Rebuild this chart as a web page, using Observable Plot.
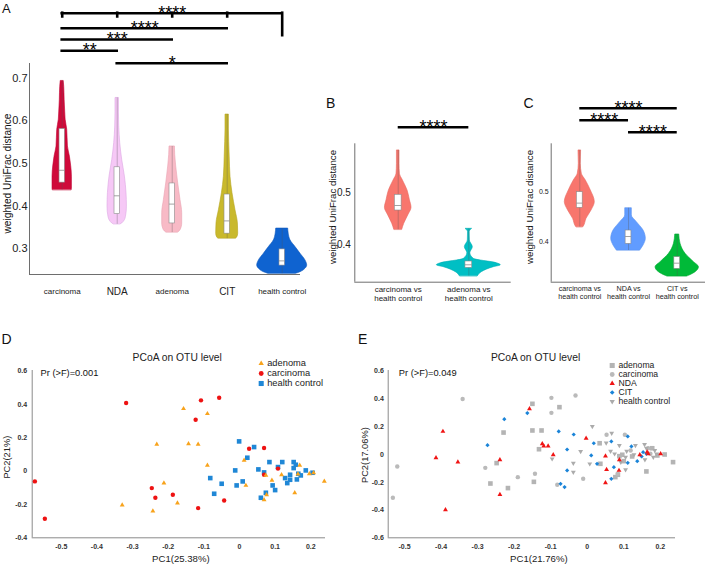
<!DOCTYPE html>
<html><head><meta charset="utf-8">
<script src="https://cdn.jsdelivr.net/npm/d3@7"></script>
<script src="https://cdn.jsdelivr.net/npm/@observablehq/plot@0.6"></script>
<style>
html,body{margin:0;padding:0;background:#fff;}
#fig{position:relative;width:709px;height:566px;overflow:hidden;background:#fff;font-family:"Liberation Sans",Arial,sans-serif;}
</style></head><body><div id="fig"></div>
<script>
// ---------------- DATA ----------------
// Panel A: violin profiles [value, half-width(px)], box [q1, median, q3]
const groupsA = ["carcinoma", "NDA", "adenoma", "CIT", "health control"];
const violinA_carcinoma = [[0.694,1.5],[0.68,2],[0.65,2.4],[0.62,3],[0.603,3.4],[0.579,5],[0.54,5.7],[0.516,7.7],[0.493,9],[0.469,9.7],[0.441,9.7],[0.4376,9.5]];
const violinA_NDA = [[0.654,1.7],[0.62,1.7],[0.587,2],[0.548,3],[0.508,5],[0.469,7.7],[0.43,9.3],[0.398,9.7],[0.374,8.7],[0.359,5],[0.357,3.5]];
const violinA_adenoma = [[0.54,2.7],[0.52,3],[0.493,4],[0.453,6],[0.414,8.3],[0.383,10],[0.359,10],[0.343,8.3],[0.3376,6]];
const violinA_CIT = [[0.615,1.7],[0.58,1.7],[0.55,2],[0.516,2.5],[0.469,3.3],[0.43,5.3],[0.39,8.3],[0.359,10.7],[0.335,11],[0.326,10],[0.3234,9]];
const violinA_HC = [[0.347,6],[0.335,6.5],[0.3194,8.3],[0.3035,13.3],[0.2878,18.3],[0.272,23.3],[0.2603,25],[0.2525,23.3],[0.2444,18.3],[0.2407,14]];
const boxA = [[0.455,0.484,0.581],[0.381,0.424,0.491],[0.359,0.4045,0.453],[0.335,0.365,0.427],[0.26,0.271,0.298]];
// significance: [from group, to group, level, label]
const sigA = [[1,5,5,"****"],[1,4,3.8,"****"],[1,3,2.9,"***"],[1,2,2,"**"],[2,4,1,"*"]];
const sigA_ticks = [1,2,3,4];
const sigA_drop = [5];

// Panel B
const groupsB = ["carcinoma vs\nhealth control", "adenoma vs\nhealth control"];
const violinB_carcinoma = [[0.581,1.3],[0.555,1.3],[0.536,1.7],[0.523,4.7],[0.504,9.3],[0.485,11.7],[0.4706,13.3],[0.456,10],[0.44,6],[0.4285,4]];
const violinB_adenoma = [[0.4302,3.3],[0.4237,0.8],[0.4077,1],[0.3949,4],[0.3833,1.5],[0.3724,5],[0.364,28],[0.36,32],[0.3564,25],[0.3468,13],[0.339,9]];
const boxB = [[0.4654,0.475,0.4956],[0.3552,0.361,0.3673]];
const sigB = [[1,2,1,"****"]];

// Panel C
const groupsC = ["carcinoma vs\nhealth control", "NDA vs\nhealth control", "CIT vs\nhealth control"];
const violinC_carcinoma = [[0.581,1.3],[0.5546,1],[0.535,2],[0.5217,6],[0.502,11],[0.479,15],[0.4625,11.7],[0.446,6.7],[0.431,4],[0.4296,3.5]];
const violinC_NDA = [[0.467,3.3],[0.4527,3.3],[0.4395,8.3],[0.423,15],[0.4067,17.3],[0.3935,15],[0.3836,11.7]];
const violinC_CIT = [[0.4152,2],[0.3968,3.3],[0.377,8.3],[0.3606,16.7],[0.3507,21.7],[0.3408,18.3],[0.3337,11.7],[0.3323,10]];
const boxC = [[0.4678,0.477,0.4986],[0.3968,0.4112,0.423],[0.3475,0.3586,0.3704]];
const sigC = [[1,3,3,"****"],[1,2,2,"****"],[2,3,1,"****"]];

// Panel D (PC1, PC2)
const adenomaD = [[-0.157,0.374],[-0.09,0.344],[-0.232,0.16],[-0.143,0.164],[-0.116,0.16],[-0.09,0.034],[-0.212,-0.072],[-0.329,-0.204],[-0.243,-0.24],[-0.174,-0.192],[0.013,0.064],[0.018,-0.086],[0.069,-0.172],[0.076,-0.142],[0.074,-0.026],[0.091,-0.056],[0.118,-0.022],[0.155,-0.13],[0.169,0.034],[0.164,-0.018],[0.196,-0.016],[0.208,-0.01],[0.238,-0.062]];
const carcinomaD = [[-0.574,-0.062],[-0.546,-0.286],[-0.318,0.408],[-0.108,0.424],[-0.057,0.44],[-0.123,0.308],[-0.246,-0.102],[-0.236,-0.16],[-0.187,-0.142],[-0.116,-0.222],[-0.043,-0.176],[0.027,0.134],[0.069,0.138],[0.108,0.015],[0.069,-0.022]];
const healthD = [[-0.001,0.178],[0.041,0.144],[0.022,0.08],[0.084,0.054],[0.12,0.054],[0.152,0.054],[0.158,0.038],[0.108,0.024],[0.152,0.018],[0.053,0.01],[0.069,-0.008],[-0.012,0.004],[0.186,0.004],[0.205,-0.01],[0.142,-0.022],[0.165,-0.016],[0.172,-0.026],[0.128,-0.042],[0.161,-0.05],[0.142,-0.052],[0.134,-0.072],[0.009,-0.062],[-0.008,-0.086],[0.093,-0.086],[-0.05,-0.076],[0.1,-0.114],[0.074,-0.13],[0.06,-0.16],[-0.082,-0.042],[-0.071,-0.136]];

// Panel E (PC1, PC2)
const adenomaE = [[-0.15,0.365],[-0.076,0.341],[-0.15,0.173],[-0.125,0.173],[-0.229,0.158],[-0.132,0.038],[-0.248,-0.062],[-0.265,-0.209],[-0.217,-0.242],[-0.146,-0.197],[0.034,0.081],[0.088,-0.012],[0.1,-0.048],[0.123,-0.014],[0.036,-0.067],[0.084,-0.146],[0.077,-0.163],[0.162,-0.122],[0.178,0.045],[0.192,-0.007],[0.212,0],[0.235,-0.055],[0.096,-0.002]];
const carcinomaE = [[-0.52,-0.086],[-0.532,-0.312],[-0.341,0.4],[-0.098,0.408],[-0.032,0.425],[-0.098,0.3],[-0.279,-0.096],[-0.19,-0.163],[-0.143,-0.139],[-0.082,-0.218],[-0.011,-0.175],[0.053,0.142],[0.103,0.142],[0.167,0.045],[0.173,0.005],[0.119,0.029],[0.084,-0.139]];
const ndaE = [[-0.395,0.166],[-0.414,-0.024],[-0.354,-0.055],[-0.388,-0.398],[-0.239,-0.038],[-0.239,-0.288],[-0.158,0.329],[-0.003,0.117],[-0.123,0.077],[-0.119,0.06],[-0.107,0.06],[-0.093,-0.002],[0.05,-0.012],[0.088,-0.038],[0.053,-0.108],[0.087,-0.115],[0.05,-0.204],[0.144,-0.002],[0.164,0.017],[0.167,0.005],[0.201,0.005]];
const citE = [[-0.227,0.254],[-0.164,0.298],[-0.273,0.067],[-0.078,0.166],[-0.037,0.144],[0.018,0.081],[0.066,0.094],[0.111,0.13],[-0.055,0.036],[0.011,-0.007],[0.121,0.058],[0.149,-0.014],[0.153,0.017],[0.162,0.005],[0.027,-0.067],[0.111,-0.06],[0.137,-0.048],[0.073,-0.091],[-0.055,-0.115],[0.066,-0.175],[-0.073,-0.211],[-0.062,-0.235]];
const healthE = [[0.014,0.202],[0.067,0.153],[0.052,0.084],[-0.018,0.022],[0.088,0.065],[0.064,0.024],[0.075,0.005],[0.132,0.065],[0.157,0.072],[0.162,0.045],[0.108,0.024],[0.128,-0.002],[0.185,0.029],[0.19,0.005],[0.158,-0.038],[0.105,-0.019],[-0.038,-0.063],[0.007,-0.067],[-0.038,-0.127],[0.105,-0.11],[-0.096,-0.031],[0.092,-0.055],[0.181,-0.019]];

const ticksPC1 = [-0.5,-0.4,-0.3,-0.2,-0.1,0,0.1,0.2];
const ticksPC2_D = [-0.4,-0.2,0,0.2,0.4,0.6];
const ticksPC2_E = [-0.6,-0.4,-0.2,0,0.2,0.4,0.6];

// ---------------- DRAWING ----------------
const FONT = '"Liberation Sans", Arial, Helvetica, sans-serif';
const fig = document.getElementById("fig");
function put(el, left, top) {
  Object.assign(el.style, {position: "absolute", left: left + "px", top: top + "px", background: "transparent", overflow: "visible", maxWidth: "none"});
  fig.appendChild(el);
}
function letter(t, left, top, size) {
  const d = document.createElement("div");
  d.textContent = t;
  Object.assign(d.style, {position: "absolute", left: left + "px", top: top + "px", fontSize: size + "px", lineHeight: size + "px", fontFamily: FONT, color: "#111"});
  fig.appendChild(d);
}
const AXIS = "#6e6e6e";

function violinPanel(o) {
  const marks = [];
  o.profiles.forEach((p, i) => {
    const c = i + 1;
    const prof = p.slice().sort((a, b) => a[0] - b[0]);
    marks.push(Plot.areaX(prof, {y: d => d[0], x1: d => c - d[1] / o.pxPerUnit, x2: d => c + d[1] / o.pxPerUnit,
      fill: o.fills[i], stroke: o.strokes[i], strokeWidth: 0.6, curve: "monotone-y"}));
  });
  const bx = o.boxes.map((b, i) => {
    const vals = o.profiles[i].map(d => d[0]);
    return {c: i + 1, lo: d3.min(vals), hi: d3.max(vals), q1: b[0], med: b[1], q3: b[2]};
  });
  const h = o.boxHalf / o.pxPerUnit;
  marks.push(Plot.ruleX(bx, {x: "c", y1: "lo", y2: "hi", stroke: "#555", strokeOpacity: 0.55, strokeWidth: 0.6}));
  marks.push(Plot.rect(bx, {x1: d => d.c - h, x2: d => d.c + h, y1: "q1", y2: "q3", fill: "white", stroke: "#8c8c8c", strokeWidth: 0.6}));
  marks.push(Plot.ruleY(bx, {y: "med", x1: d => d.c - h, x2: d => d.c + h, stroke: "#8c8c8c", strokeWidth: 0.8}));
  marks.push(Plot.ruleX([o.xDomain[0]], {stroke: AXIS, strokeWidth: 1}));
  marks.push(Plot.ruleY([o.yDomain[0]], {stroke: AXIS, strokeWidth: 1}));
  marks.push(Plot.axisY({ticks: o.yTicks, tickSize: 0, tickPadding: o.tickPad, tickFormat: d => String(d), fontSize: o.tickFont, label: null, fill: "#222"}));
  marks.push(Plot.text(o.labels, {x: (d, i) => i + 1, frameAnchor: "bottom", text: d => d, dy: o.labelDy,
    textAnchor: "middle", lineAnchor: o.labelAnchor, lineHeight: 1.12, fontSize: o.labelFont, fill: "#222"}));
  marks.push(Plot.text(["weighted UniFrac distance"], {frameAnchor: "left", text: d => d, rotate: -90,
    textAnchor: "middle", lineAnchor: "middle",
    dx: o.yLabelDx, dy: o.yLabelDy, fontSize: o.yLabelFont, fill: "#111"}));
  const svg = Plot.plot({
    width: o.width, height: o.height,
    marginLeft: o.mL, marginRight: o.mR, marginTop: o.mT, marginBottom: o.mB,
    x: {domain: o.xDomain, axis: null},
    y: {domain: o.yDomain, axis: null},
    style: {fontFamily: FONT, color: "#222"},
    marks
  });
  put(svg, o.left, o.top);
}

function bracketPanel(o) {
  const marks = [
    Plot.ruleY(o.sig, {y: d => d[2], x1: d => d[0], x2: d => d[1], stroke: "#000", strokeWidth: 2.6,
      strokeLinecap: o.square ? "square" : "butt"}),
    Plot.text(o.sig, {x: d => (d[0] + d[1]) / 2, y: d => d[2], text: d => d[3], textAnchor: "middle", lineAnchor: "bottom", dy: 5.5, fontSize: 18, fill: "#000"})
  ];
  if (o.ticks) {
    const top = d3.max(o.sig, d => d[2]);
    marks.push(Plot.ruleX(o.ticks, {x: d => d, y1: top, y2: top - o.tickLen, stroke: "#000", strokeWidth: 2.6, strokeLinecap: "square"}));
    marks.push(Plot.ruleX(o.drop, {x: d => d, y1: top, y2: o.dropTo, stroke: "#000", strokeWidth: 2.6, strokeLinecap: "square"}));
  }
  const svg = Plot.plot({
    width: o.width, height: o.height,
    marginLeft: o.mL, marginRight: o.mR, marginTop: 0, marginBottom: 0,
    x: {domain: o.xDomain, axis: null},
    y: {domain: o.levelDomain, range: o.levelRange, axis: null},
    style: {fontFamily: FONT},
    marks
  });
  put(svg, o.left, o.top);
}

const triangleDown = {
  draw(ctx, size) {
    const y = -Math.sqrt(size / (Math.sqrt(3) * 3));
    ctx.moveTo(0, -y * 2);
    ctx.lineTo(-Math.sqrt(3) * y, y);
    ctx.lineTo(Math.sqrt(3) * y, y);
    ctx.closePath();
  }
};

function scatterPanel(o) {
  const marks = [
    Plot.ruleX([o.xDomain[0]], {stroke: "#8a8a8a", strokeWidth: 1}),
    Plot.ruleY([o.yDomain[0]], {stroke: "#8a8a8a", strokeWidth: 1}),
    Plot.axisX({ticks: o.xTicks, tickSize: 0, tickPadding: 6.3, tickFormat: d => String(d), fontSize: 7, fontWeight: "bold", label: null, fill: "#333"}),
    Plot.axisY({ticks: o.yTicks, tickSize: 0, tickPadding: o.yPad, tickFormat: d => String(d), fontSize: 7, fontWeight: "bold", label: null, fill: "#333"})
  ];
  for (const s of o.drawOrder.map(n => o.series.find(s => s.name === n))) {
    marks.push(Plot.dot(s.pts, {x: d => d[0], y: d => d[1], symbol: s.symbol, r: s.r, fill: s.color}));
  }
  marks.push(Plot.text([o.title], {frameAnchor: "top", text: d => d, textAnchor: "middle", lineAnchor: "middle", dx: o.titleDx, dy: -12.7, fontSize: 10.3, fill: "#222"}));
  marks.push(Plot.text([o.pr], {frameAnchor: "top-left", text: d => d, textAnchor: "start", lineAnchor: "middle", dx: o.prDx, dy: 3, fontSize: 9.3, fill: "#111"}));
  marks.push(Plot.text([o.xLabel], {frameAnchor: "bottom", text: d => d, textAnchor: "middle", lineAnchor: "middle", dx: o.xLabelDx, dy: 21.5, fontSize: 9.6, fill: "#222"}));
  marks.push(Plot.text([o.yLabel], {frameAnchor: "left", text: d => d, rotate: -90, textAnchor: "middle", lineAnchor: "middle", dx: o.yLabelDx, dy: o.yLabelDy, fontSize: 9.3, fill: "#222"}));
  const svg = Plot.plot({
    width: o.width, height: o.height,
    marginLeft: o.mL, marginRight: o.mR, marginTop: o.mT, marginBottom: o.mB,
    x: {domain: o.xDomain, axis: null},
    y: {domain: o.yDomain, axis: null},
    style: {fontFamily: FONT},
    marks
  });
  put(svg, o.left, o.top);
}

function legendPanel(o) {
  const names = o.series.map(s => s.name);
  const marks = o.series.map(s => Plot.dot([s.name], {x: 0, y: d => d, symbol: s.symbol, r: s.r * 1.1, fill: s.color}));
  marks.push(Plot.text(names, {x: 0, y: d => d, text: d => d, dx: o.textDx, textAnchor: "start", lineAnchor: "middle", fontSize: o.fontSize, fill: "#222"}));
  const svg = Plot.plot({
    width: o.width, height: o.height, margin: 0,
    x: {domain: [0, 1], range: [o.markerX, o.markerX + 60], axis: null},
    y: {type: "point", domain: names, range: o.yRange, padding: 0, axis: null},
    style: {fontFamily: FONT},
    marks
  });
  put(svg, o.left, o.top);
}

// ---- Panel A ----
const frameA = {left: 0, top: 0, width: 302, height: 300, mL: 29, mR: 2, xDomain: [0.405, 5.333]};
violinPanel({...frameA, mT: 63, mB: 26,
  yDomain: [0.239, 0.735], yTicks: [0.3, 0.4, 0.5, 0.6, 0.7], tickFont: 11, tickPad: 2,
  profiles: [violinA_carcinoma, violinA_NDA, violinA_adenoma, violinA_CIT, violinA_HC],
  boxes: boxA,
  fills: ["#cf0a3a", "#f6c8f6", "#f8bac6", "#c9b92c", "#0f63d0"],
  strokes: ["#c00030", "#dca6e2", "#eaa3b2", "#b5a520", "#0d58bb"],
  pxPerUnit: 55, boxHalf: 2.7,
  labels: groupsA, labelFont: d => (d === d.toUpperCase() ? 10 : 8), labelDy: 16.7, labelAnchor: "middle",
  yLabelDx: -22, yLabelDy: 4.5, yLabelFont: 10.2});
bracketPanel({...frameA, height: 72, sig: sigA, square: true, levelDomain: [1, 5], levelRange: [62.7, 12.7],
  ticks: sigA_ticks, tickLen: 0.3, drop: sigA_drop, dropTo: 3.2});

// ---- Panel B ----
const frameB = {left: 320, top: 80, width: 195, height: 225, mL: 34.3, mR: 4.3, xDomain: [0.385, 2.60]};
violinPanel({...frameB, mT: 63.3, mB: 23.3,
  yDomain: [0.3275, 0.5937], yTicks: [0.4, 0.5], tickFont: 10, tickPad: 4,
  profiles: [violinB_carcinoma, violinB_adenoma], boxes: boxB,
  fills: ["#F8766D", "#00BFC4"], strokes: ["#e86a62", "#00aeb3"],
  pxPerUnit: 70.6, boxHalf: 3.4,
  labels: groupsB, labelFont: 8, labelDy: 3, labelAnchor: "top",
  yLabelDx: -22, yLabelDy: -6, yLabelFont: 9.7});
bracketPanel({...frameB, height: 80, sig: sigB, levelDomain: [0, 1], levelRange: [66.7, 46.7]});

// ---- Panel C ----
const frameC = {left: 515, top: 80, width: 194, height: 225, mL: 35.7, mR: 4, xDomain: [0.413, 3.58]};
violinPanel({...frameC, mT: 63.3, mB: 23.3,
  yDomain: [0.3211, 0.594], yTicks: [0.4, 0.5], tickFont: 7, tickPad: 2.5,
  profiles: [violinC_carcinoma, violinC_NDA, violinC_CIT], boxes: boxC,
  fills: ["#F8766D", "#619CFF", "#00BA38"], strokes: ["#e86a62", "#5890f0", "#00a832"],
  pxPerUnit: 48.7, boxHalf: 2.9,
  labels: groupsC, labelFont: 7.2, labelDy: 3, labelAnchor: "top",
  yLabelDx: -21, yLabelDy: -6, yLabelFont: 9.7});
bracketPanel({...frameC, height: 70, sig: sigC, levelDomain: [1, 3], levelRange: [51.7, 27.7]});

// ---- Panel D ----
const seriesD = [
  {name: "adenoma", pts: adenomaD, symbol: "triangle", color: "#f8a31c", r: 1.8},
  {name: "carcinoma", pts: carcinomaD, symbol: "circle", color: "#ee1212", r: 2.2},
  {name: "health control", pts: healthD, symbol: "square", color: "#1f87d6", r: 2.6}
];
scatterPanel({left: 0, top: 340, width: 345, height: 226, mL: 31.7, mR: 20, mT: 30, mB: 28.7,
  xDomain: [-0.5815, 0.2413], yDomain: [-0.4, 0.603], xTicks: ticksPC1, yTicks: ticksPC2_D, yPad: 5,
  series: seriesD, drawOrder: ["health control", "carcinoma", "adenoma"],
  title: "PCoA on OTU level", titleDx: -1.6, pr: "Pr (>F)=0.001", prDx: 8.3,
  xLabel: "PC1(25.38%)", xLabelDx: 2, yLabel: "PC2(21%)", yLabelDx: -25, yLabelDy: 3});
legendPanel({left: 250, top: 352, width: 95, height: 42, series: seriesD, markerX: 10.7, textDx: 6, yRange: [10.3, 30.7], fontSize: 9.3});

// ---- Panel E ----
const seriesE = [
  {name: "adenoma", pts: adenomaE, symbol: "square", color: "#b4b4b4", r: 2.6},
  {name: "carcinoma", pts: carcinomaE, symbol: "circle", color: "#bababa", r: 2.2},
  {name: "NDA", pts: ndaE, symbol: "triangle", color: "#f01414", r: 1.8},
  {name: "CIT", pts: citE, symbol: "diamond2", color: "#1a84d8", r: 1.9},
  {name: "health control", pts: healthE, symbol: triangleDown, color: "#ababab", r: 1.8}
];
scatterPanel({left: 350, top: 340, width: 359, height: 226, mL: 37.7, mR: 34, mT: 30, mB: 28.7,
  xDomain: [-0.5448, 0.2417], yDomain: [-0.6, 0.605], xTicks: ticksPC1, yTicks: ticksPC2_E, yPad: 4.4,
  series: seriesE, drawOrder: ["adenoma", "carcinoma", "health control", "CIT", "NDA"],
  title: "PCoA on OTU level", titleDx: 3.7, pr: "Pr (>F)=0.049", prDx: 10.6,
  xLabel: "PC1(21.76%)", xLabelDx: 7, yLabel: "PC2(17.06%)", yLabelDx: -22.7, yLabelDy: 1});
legendPanel({left: 600, top: 352, width: 109, height: 60, series: seriesE, markerX: 11.7, textDx: 6.3, yRange: [11.3, 49.7], fontSize: 8.6});

// ---- Panel letters ----
letter("A", 2, 1.5, 13);
letter("B", 326, 95.5, 14);
letter("C", 523.5, 95.5, 14);
letter("D", 1.5, 331.5, 14);
letter("E", 358, 331.5, 14);
</script></body></html>
